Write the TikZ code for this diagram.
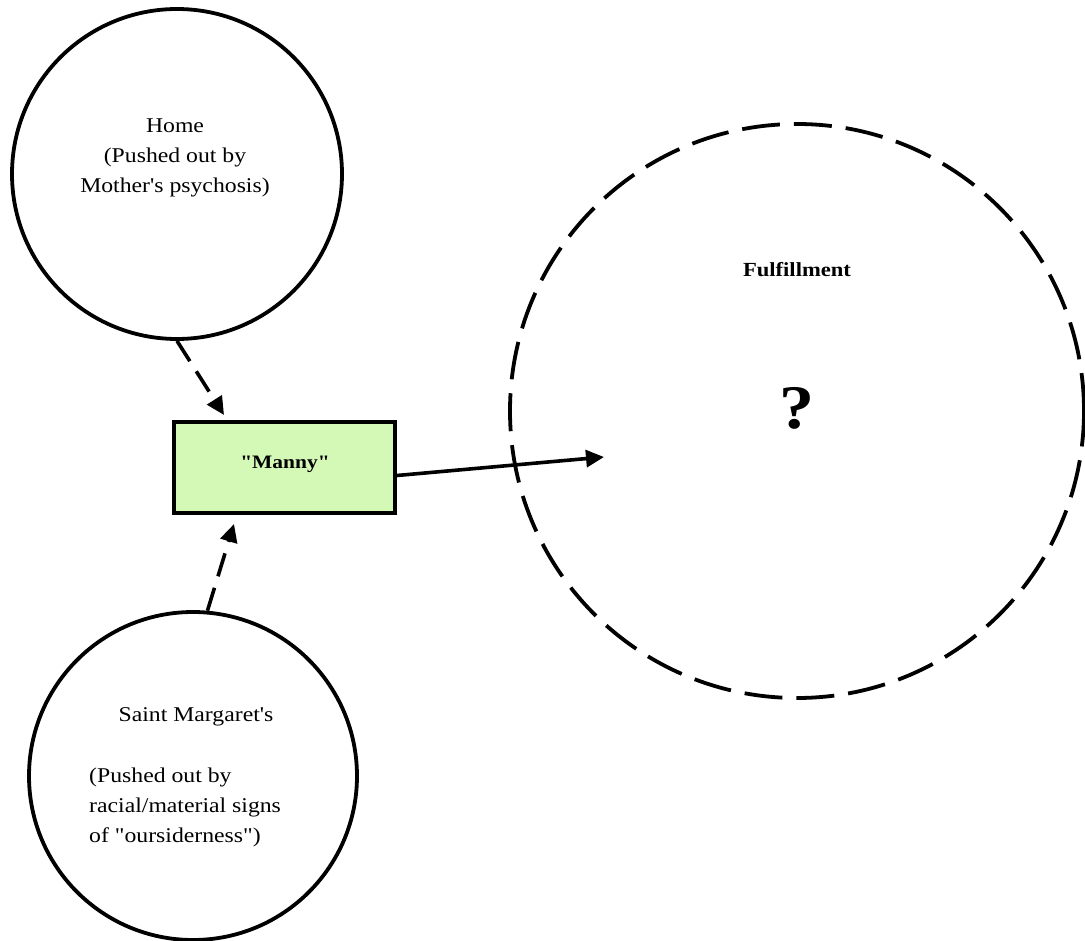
\documentclass[tikz,border=0pt]{standalone}
\usepackage{fontspec}
\setmainfont{Liberation Serif}[FakeStretch=1.13,Ligatures=TeXOff]
\usetikzlibrary{arrows.meta}
\definecolor{mannyfill}{RGB}{212,248,182}
\begin{document}
\begin{tikzpicture}[x=1pt,y=-1pt,
  place/.style={draw,circle,line width=3.8pt,inner sep=0pt},
  goal/.style={draw,circle,line width=3.8pt,dash pattern=on 38pt off 14pt,inner sep=0pt},
  selfbox/.style={draw,fill=mannyfill,line width=4pt,minimum width=221pt,minimum height=91pt,inner sep=0pt},
  txt/.style={font=\fontsize{21}{30}\selectfont,inner sep=0pt},
  pushline/.style={line width=3.6pt,dash pattern=on 24pt off 12pt,-{Triangle[length=18pt,width=17pt]}},
  reachline/.style={line width=3.6pt,-{Triangle[length=18pt,width=17pt]}}]
\useasboundingbox (0,0) rectangle (1085,941);

% places
\node[place,minimum size=330pt] (home) at (177,174) {};
\node[place,minimum size=328pt] (stm) at (193,776) {};
\node[goal,minimum size=574pt] (fulfil) at (797,411) {};

% texts
\node[txt,align=center] (hometxt) at (175,158) {Home\\(Pushed out by\\Mother's psychosis)};
\node[txt] (stmname) at (196,717) {Saint Margaret's};
\node[txt,align=left,anchor=west] (stmtxt) at (89,807) {(Pushed out by\\racial/material signs\\of "oursiderness")};
\node[txt,font=\fontsize{20}{24}\selectfont\bfseries] (fultxt) at (797,270) {Fulfillment};
\node[inner sep=0pt,font=\fontsize{62}{62}\selectfont\bfseries] (qmark) at (797,408) {?};

% the self
\node[selfbox] (manny) at (284.5,467.5) {};
\node[txt,font=\fontsize{19}{24}\selectfont\bfseries] (mannytxt) at (285,464) {"Manny"};

% movements
\coordinate (reach) at (604,457);
\draw[pushline] (home.south) -- ([xshift=52pt,yshift=5pt]manny.north west);
\draw[pushline] (stm.85) -- ([xshift=62pt,yshift=-9pt]manny.south west);
\draw[reachline] ([yshift=-8pt]manny.east) -- (reach);
\end{tikzpicture}
\end{document}
